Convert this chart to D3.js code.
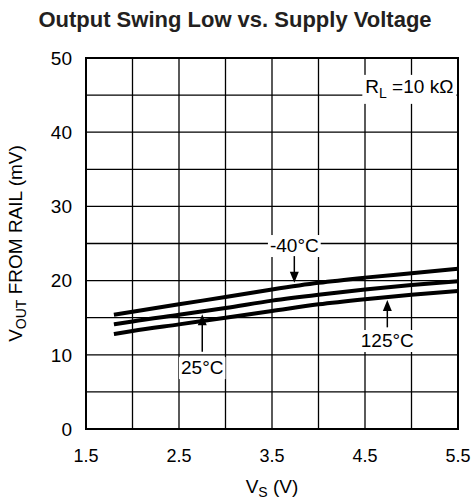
<!DOCTYPE html>
<html lang="en">
	<head>
		<meta charset="utf-8">
		<title>Output Swing Low vs. Supply Voltage</title>
		<script type="text/javascript" src="https://cdn.jsdelivr.net/npm/d3@7"></script>
		<style type="text/css">
			body { margin: 0; background: #fff; overflow: hidden; }
			svg { display: block; }
			text { font-family: "Liberation Sans", Arial, sans-serif; fill: #000; }
		</style>
	</head>
	<body>
		<svg width="472" height="502"></svg>
		<script type="text/javascript">

			// supply voltage (V)
			const vs = [1.8, 2.0, 2.5, 3.0, 3.5, 4.0, 4.5, 5.0, 5.5];
			// VOUT from rail (mV), one array per temperature
			const minus40 = [15.4, 15.8, 16.8, 17.8, 18.8, 19.7, 20.4, 21.0, 21.6];
			const plus25 = [14.1, 14.5, 15.4, 16.3, 17.3, 18.1, 18.8, 19.4, 19.9];
			const plus125 = [12.8, 13.2, 14.1, 15.0, 15.9, 16.8, 17.5, 18.1, 18.6];

			const xTickLabels = [1.5, 2.5, 3.5, 4.5, 5.5];
			const yTickLabels = [0, 10, 20, 30, 40, 50];

			// callouts: label, arrow x (V), text baseline / arrow tail / arrow tip (mV)
			const callouts = [
				{ label: '-40°C', x: 3.74, text: 23.85, tail: 23.3, tip: 19.7 },
				{ label: '25°C', x: 2.75, text: 7.4, tail: 10.4, tip: 15.45 },
				{ label: '125°C', x: 4.74, text: 11.05, tail: 13.7, tip: 17.4 }
			];

			const margin = { left: 86, right: 14, top: 58, bottom: 73 };
			const svg = d3.select('svg');
			const width = +svg.attr('width');
			const height = +svg.attr('height');
			const innerWidth = width - margin.left - margin.right;
			const innerHeight = height - margin.top - margin.bottom;

			const xScale = d3.scaleLinear().domain([1.5, 5.5]).range([0, innerWidth]);
			const yScale = d3.scaleLinear().domain([0, 50]).range([innerHeight, 0]);

			svg.append('text')
				.attr('x', 235).attr('y', 27)
				.attr('text-anchor', 'middle')
				.style('font-size', '22px').style('font-weight', 'bold')
				.style('fill', '#231f20')
				.text('Output Swing Low vs. Supply Voltage');

			const g = svg.append('g')
				.attr('transform', `translate(${margin.left}, ${margin.top})`);

			// grid
			g.selectAll('.vgrid').data(d3.range(1.5, 5.51, 0.5))
				.enter().append('line')
				.attr('x1', d => xScale(d)).attr('x2', d => xScale(d))
				.attr('y1', 0).attr('y2', innerHeight)
				.attr('stroke', '#000').attr('stroke-width', 1.3);
			g.selectAll('.hgrid').data(d3.range(0, 50.1, 5))
				.enter().append('line')
				.attr('y1', d => yScale(d)).attr('y2', d => yScale(d))
				.attr('x1', 0).attr('x2', innerWidth)
				.attr('stroke', '#000').attr('stroke-width', 1.3);
			g.append('rect')
				.attr('width', innerWidth).attr('height', innerHeight)
				.attr('fill', 'none').attr('stroke', '#000').attr('stroke-width', 2);

			// tick labels
			g.selectAll('.xlab').data(xTickLabels)
				.enter().append('text')
				.attr('x', d => xScale(d)).attr('y', innerHeight + 33)
				.attr('text-anchor', 'middle')
				.style('font-size', '18px')
				.text(d => d.toFixed(1));
			g.selectAll('.ylab').data(yTickLabels)
				.enter().append('text')
				.attr('x', -14).attr('y', d => yScale(d))
				.attr('dy', '0.36em')
				.attr('text-anchor', 'end')
				.style('font-size', '19px')
				.text(d => d);

			// axis titles
			const xt = svg.append('text')
				.attr('x', 272).attr('y', 493)
				.attr('text-anchor', 'middle')
				.style('font-size', '19px');
			xt.append('tspan').text('V');
			xt.append('tspan').attr('dy', 4).style('font-size', '14px').text('S');
			xt.append('tspan').attr('dy', -4).text(' (V)');

			const yt = svg.append('text')
				.attr('transform', `translate(22, ${margin.top + innerHeight / 2}) rotate(-90)`)
				.attr('text-anchor', 'middle')
				.style('font-size', '19px');
			yt.append('tspan').text('V');
			yt.append('tspan').attr('dy', 4).style('font-size', '14px').text('OUT');
			yt.append('tspan').attr('dy', -4).text(' FROM RAIL (mV)');

			// curves
			const line = d3.line()
				.x((d, i) => xScale(vs[i]))
				.y(d => yScale(d))
				.curve(d3.curveMonotoneX);
			g.selectAll('.curve').data([minus40, plus25, plus125])
				.enter().append('path')
				.attr('d', line)
				.attr('fill', 'none')
				.attr('stroke', '#000')
				.attr('stroke-width', 4);

			// load label
			const rl = g.append('g');
			const rlText = rl.append('text')
				.attr('x', xScale(5.45)).attr('y', yScale(45.3))
				.attr('text-anchor', 'end')
				.style('font-size', '19px');
			rlText.append('tspan').text('R');
			rlText.append('tspan').attr('dy', 5).style('font-size', '14px').text('L');
			rlText.append('tspan').attr('dy', -5).text(' =10 kΩ');
			const rb = rlText.node().getBBox();
			rl.insert('rect', 'text')
				.attr('x', rb.x - 3).attr('y', rb.y - 1)
				.attr('width', rb.width + 6).attr('height', rb.height + 4)
				.attr('fill', '#fff');

			// temperature callouts
			callouts.forEach(c => {
				const cg = g.append('g');
				const t = cg.append('text')
					.attr('x', xScale(c.x)).attr('y', yScale(c.text))
					.attr('text-anchor', 'middle')
					.style('font-size', '19px')
					.text(c.label);
				const b = t.node().getBBox();
				cg.insert('rect', 'text')
					.attr('x', b.x - 2).attr('y', b.y)
					.attr('width', b.width + 4).attr('height', b.height + 1)
					.attr('fill', '#fff');
				const x = xScale(c.x);
				const y0 = yScale(c.tail);
				const y1 = yScale(c.tip);
				const dir = y1 > y0 ? 1 : -1;
				cg.append('line')
					.attr('x1', x).attr('x2', x)
					.attr('y1', y0).attr('y2', y1 - dir * 8)
					.attr('stroke', '#000').attr('stroke-width', 1.5);
				cg.append('path')
					.attr('d', `M${x},${y1} L${x - 4.5},${y1 - dir * 11} L${x + 4.5},${y1 - dir * 11} Z`)
					.attr('fill', '#000');
			});

		</script>
	</body>
</html>
